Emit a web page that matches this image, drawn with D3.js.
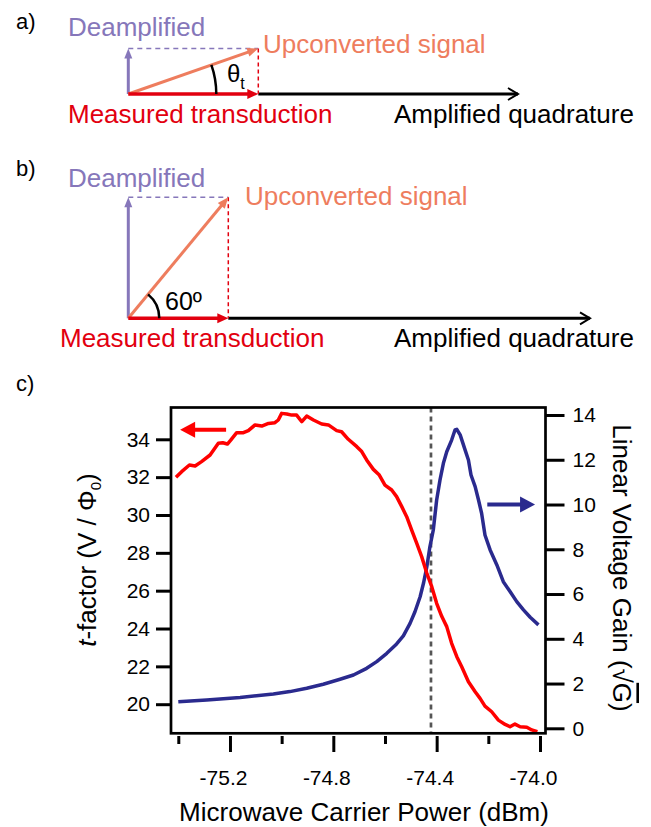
<!DOCTYPE html>
<html>
<head>
<meta charset="utf-8">
<script src="https://cdnjs.cloudflare.com/ajax/libs/d3/7.8.5/d3.min.js"></script>
<style>
  body { margin: 0; background: #fff; }
  svg text { font-family: "Liberation Sans", Arial, Helvetica, sans-serif; }
  .axis path.domain { display: none; }
  .axis line { stroke: #000; stroke-width: 3; }
  .axis text { font-size: 21px; fill: #000; font-family: "Liberation Sans", Arial, sans-serif; }
</style>
</head>
<body>
<svg id="fig" width="651" height="827"></svg>
<script>
// ---------------- data ----------------
// t-factor trace (left axis)
const powerT = [-75.409, -75.387, -75.357, -75.335, -75.31, -75.277, -75.245, -75.228, -75.21, -75.197,
  -75.174, -75.148, -75.129, -75.103, -75.077, -75.051, -75.026, -75.013, -75.0, -74.98,
  -74.961, -74.942, -74.922, -74.903, -74.877, -74.845, -74.819, -74.787, -74.768, -74.742,
  -74.709, -74.69, -74.671, -74.645, -74.622, -74.60, -74.574, -74.555, -74.535, -74.516,
  -74.497, -74.477, -74.458, -74.438, -74.419, -74.40, -74.38, -74.361, -74.342, -74.322,
  -74.303, -74.277, -74.251, -74.232, -74.213, -74.187, -74.161, -74.135, -74.116, -74.097,
  -74.077, -74.051, -74.032, -74.01];
const tFactor = [31.99, 32.29, 32.64, 32.59, 32.82, 33.17, 33.79, 33.82, 33.75, 33.96,
  34.35, 34.35, 34.46, 34.76, 34.70, 34.84, 34.88, 35.02, 35.37, 35.34,
  35.28, 35.28, 34.93, 35.23, 35.02, 34.81, 34.76, 34.46, 34.40, 34.0,
  33.61, 33.35, 32.91, 32.41, 32.11, 31.58, 31.32, 30.97, 30.44, 29.91,
  29.21, 28.50, 27.80, 26.92, 26.21, 25.33, 24.63, 24.10, 23.22, 22.51,
  21.98, 21.19, 20.66, 20.31, 19.90, 19.60, 19.16, 18.93, 18.81, 18.95,
  18.81, 18.78, 18.64, 18.55];

// linear voltage gain trace (right axis)
const powerG = [-75.40, -75.29, -75.161, -75.032, -74.968, -74.903, -74.839, -74.774, -74.722, -74.671,
  -74.632, -74.593, -74.555, -74.529, -74.503, -74.484, -74.464, -74.451, -74.438, -74.426,
  -74.413, -74.40, -74.387, -74.374, -74.361, -74.342, -74.329, -74.322, -74.309, -74.29,
  -74.277, -74.267, -74.251, -74.238, -74.226, -74.213, -74.193, -74.167, -74.142, -74.116,
  -74.09, -74.064, -74.038, -74.006];
const gain = [1.19, 1.27, 1.38, 1.53, 1.64, 1.79, 1.97, 2.19, 2.38, 2.68,
  2.98, 3.35, 3.77, 4.13, 4.69, 5.21, 5.88, 6.48, 7.22, 8.12,
  8.86, 10.20, 11.10, 11.84, 12.36, 12.88, 13.33, 13.36, 13.11, 12.44,
  11.99, 11.32, 10.80, 10.20, 9.61, 8.64, 7.97, 7.30, 6.55, 6.11,
  5.66, 5.29, 4.96, 4.62];

const xTicks = [-75.4, -75.2, -75.0, -74.8, -74.6, -74.4, -74.2, -74.0];
const xLabelled = [-75.2, -74.8, -74.4, -74.0];
const tTicks = [20, 22, 24, 26, 28, 30, 32, 34];
const gainTicks = [0, 2, 4, 6, 8, 10, 12, 14];
const markerPower = -74.422;      // dotted operating point

// phasor diagrams: [measured (in-phase), deamplified (quadrature)]
const phasorA = [1, 0.35];
const phasorB = [1, 1.21];

const col = {
    red: "#e2000f", purple: "#8677ba", salmon: "#ee7d5e",
    trace: "#ff0000", blue: "#2a2a8e"
};

const svg = d3.select("#fig");
svg.append("rect").attr("width", 651).attr("height", 827).attr("fill", "#fff");

// simple arrow: line + filled head
function arrow(g, x1, y1, x2, y2, color, width, len, half) {
    let a = Math.atan2(y2 - y1, x2 - x1);
    let c = Math.cos(a), s = Math.sin(a);
    g.append("line")
        .attr("x1", x1).attr("y1", y1)
        .attr("x2", x2 - c * len * 0.7).attr("y2", y2 - s * len * 0.7)
        .attr("stroke", color).attr("stroke-width", width);
    let bx = x2 - c * len, by = y2 - s * len;
    g.append("path")
        .attr("d", `M${x2},${y2}L${bx - s * half},${by + c * half}L${bx + s * half},${by - c * half}Z`)
        .attr("fill", color);
}

function label(g, x, y, txt, color, size) {
    return g.append("text").attr("x", x).attr("y", y)
        .attr("font-size", size || 26).attr("fill", color || "#000").text(txt);
}

/*
 * Phasor sketch (panels a and b)
 */
function drawPhasor(p) {
    let g = svg.append("g");
    let sx = d3.scaleLinear().domain([0, 1]).range([p.x0, p.x0 + p.unit]);
    let sy = d3.scaleLinear().domain([0, 1]).range([p.y0, p.y0 - p.unit]);
    let tx = sx(p.vec[0]), ty = sy(p.vec[1]);

    // amplified quadrature axis, open head
    g.append("line").attr("x1", tx).attr("x2", p.axisEnd)
        .attr("y1", p.y0).attr("y2", p.y0)
        .attr("stroke", "#000").attr("stroke-width", 3);
    g.append("polyline")
        .attr("points", `${p.axisEnd - 10},${p.y0 - 6} ${p.axisEnd},${p.y0} ${p.axisEnd - 10},${p.y0 + 6}`)
        .attr("fill", "none").attr("stroke", "#000").attr("stroke-width", 2);

    // projections
    g.append("line").attr("x1", p.x0).attr("x2", tx).attr("y1", ty).attr("y2", ty)
        .attr("stroke", col.purple).attr("stroke-width", 1.5).attr("stroke-dasharray", "5,4");
    g.append("line").attr("x1", tx).attr("x2", tx).attr("y1", ty).attr("y2", p.y0)
        .attr("stroke", col.red).attr("stroke-width", 1.5).attr("stroke-dasharray", "4,3");

    arrow(g, p.x0, p.y0, p.x0, ty, col.purple, 3, 10, 4);
    arrow(g, p.x0, p.y0, tx, ty, col.salmon, 3, 11, 4.5);
    arrow(g, p.x0, p.y0, tx, p.y0, col.red, 3.5, 11, 5);

    // angle arc
    let phi = Math.atan2(p.vec[1], p.vec[0]) * p.arcFrac;
    g.append("path")
        .attr("d", `M${p.x0 + p.arcR},${p.y0}A${p.arcR},${p.arcR} 0 0 0 ${p.x0 + p.arcR * Math.cos(phi)},${p.y0 - p.arcR * Math.sin(phi)}`)
        .attr("fill", "none").attr("stroke", "#000").attr("stroke-width", 2.5);

    label(g, p.deampX, p.deampY, "Deamplified", col.purple);
    label(g, p.upX, p.upY, "Upconverted signal", col.salmon);
    label(g, p.measX, p.measY, "Measured transduction", col.red);
    label(g, 394, p.measY, "Amplified quadrature", "#000");
    return g;
}

label(svg, 16, 29, "a)", "#000", 22);
let ga = drawPhasor({x0: 128.3, y0: 94, unit: 130, vec: phasorA, axisEnd: 518,
    arcR: 88, arcFrac: 1, deampX: 68, deampY: 36, upX: 263, upY: 53, measX: 68, measY: 123});
let th = ga.append("text").attr("x", 227).attr("y", 82).attr("font-size", 24);
th.append("tspan").text("θ");
th.append("tspan").attr("font-size", 16).attr("dy", 7).text("t");

label(svg, 16, 176, "b)", "#000", 22);
let gb = drawPhasor({x0: 128.3, y0: 318.3, unit: 100, vec: phasorB, axisEnd: 590,
    arcR: 31, arcFrac: 1, deampX: 68, deampY: 187, upX: 245, upY: 205, measX: 60, measY: 347});
label(gb, 165, 310, "60º", "#000", 25);

label(svg, 16, 391, "c)", "#000", 22);

/*
 * Panel c: t-factor and gain vs carrier power
 */
class GainChart {
    constructor(svg) {
        this.svg = svg;
        this.initVis();
    }

    initVis() {
        let vis = this;
        vis.frame = {left: 171, right: 545.5, top: 407.5, bottom: 733.3};

        vis.x = d3.scaleLinear().domain([-75.4, -74.0]).range([178.3, 540]);
        vis.yT = d3.scaleLinear().domain([20, 34]).range([704.2, 439.3]);
        vis.yG = d3.scaleLinear().domain([0, 14]).range([728.3, 415]);

        vis.g = vis.svg.append("g");

        // axes
        vis.xAxis = d3.axisBottom(vis.x).tickValues(xTicks).tickSizeOuter(0)
            .tickFormat(d => xLabelled.includes(d) ? d.toFixed(1) : "");
        let gx = vis.g.append("g").attr("class", "axis")
            .attr("transform", "translate(0,736)").call(vis.xAxis);
        gx.selectAll(".tick line").attr("y2", d => xLabelled.includes(d) ? 16 : 8);
        gx.selectAll(".tick text").attr("y", 49).attr("dy", 0).attr("dx", -7);

        vis.yAxisLeft = d3.axisLeft(vis.yT).tickValues(tTicks).tickSize(15).tickPadding(6);
        vis.g.append("g").attr("class", "axis")
            .attr("transform", "translate(" + vis.frame.left + ",0)").call(vis.yAxisLeft);

        vis.yAxisRight = d3.axisRight(vis.yG).tickValues(gainTicks).tickSize(19).tickPadding(8);
        vis.g.append("g").attr("class", "axis")
            .attr("transform", "translate(" + vis.frame.right + ",0)").call(vis.yAxisRight);

        // axis titles
        vis.g.append("text").attr("x", 364).attr("y", 821).attr("text-anchor", "middle")
            .attr("font-size", 26).text("Microwave Carrier Power (dBm)");

        let lt = vis.g.append("text").attr("transform", "translate(96,560) rotate(-90)")
            .attr("text-anchor", "middle").attr("font-size", 26);
        lt.append("tspan").attr("font-style", "italic").text("t");
        lt.append("tspan").text("-factor (V / Φ");
        lt.append("tspan").attr("font-size", 15).attr("dy", 5).text("0");
        lt.append("tspan").attr("dy", -5).text(")");

        let rt = vis.g.append("text").attr("transform", "translate(613,568) rotate(90)")
            .attr("text-anchor", "middle").attr("font-size", 26);
        rt.append("tspan").text("Linear Voltage Gain (√");
        rt.append("tspan").style("text-decoration", "overline").text("G");
        rt.append("tspan").text(")");

        vis.updateVis();
    }

    updateVis() {
        let vis = this;

        // operating point
        vis.g.append("line")
            .attr("x1", vis.x(markerPower)).attr("x2", vis.x(markerPower))
            .attr("y1", vis.frame.top).attr("y2", vis.frame.bottom)
            .attr("stroke", "#555").attr("stroke-width", 2.7).attr("stroke-dasharray", "5,4");

        let tLine = d3.line().x(d => vis.x(d[0])).y(d => vis.yT(d[1]));
        let gLine = d3.line().x(d => vis.x(d[0])).y(d => vis.yG(d[1]));

        vis.g.append("path").datum(d3.zip(powerG, gain))
            .attr("d", gLine).attr("fill", "none")
            .attr("stroke", col.blue).attr("stroke-width", 3.5).attr("stroke-linejoin", "round");

        vis.g.append("path").datum(d3.zip(powerT, tFactor))
            .attr("d", tLine).attr("fill", "none")
            .attr("stroke", col.trace).attr("stroke-width", 3.5).attr("stroke-linejoin", "round");

        // which-axis arrows
        arrow(vis.g, vis.x(-75.215), vis.yT(34.5), vis.x(-75.393), vis.yT(34.5), col.trace, 4, 15, 8);
        arrow(vis.g, vis.x(-74.204), vis.yG(10), vis.x(-74.019), vis.yG(10), col.blue, 4, 15, 8);

        // frame
        vis.g.append("rect")
            .attr("x", vis.frame.left).attr("y", vis.frame.top)
            .attr("width", vis.frame.right - vis.frame.left)
            .attr("height", vis.frame.bottom - vis.frame.top)
            .attr("fill", "none").attr("stroke", "#000").attr("stroke-width", 2.7);
    }
}

new GainChart(svg);
</script>
</body>
</html>
